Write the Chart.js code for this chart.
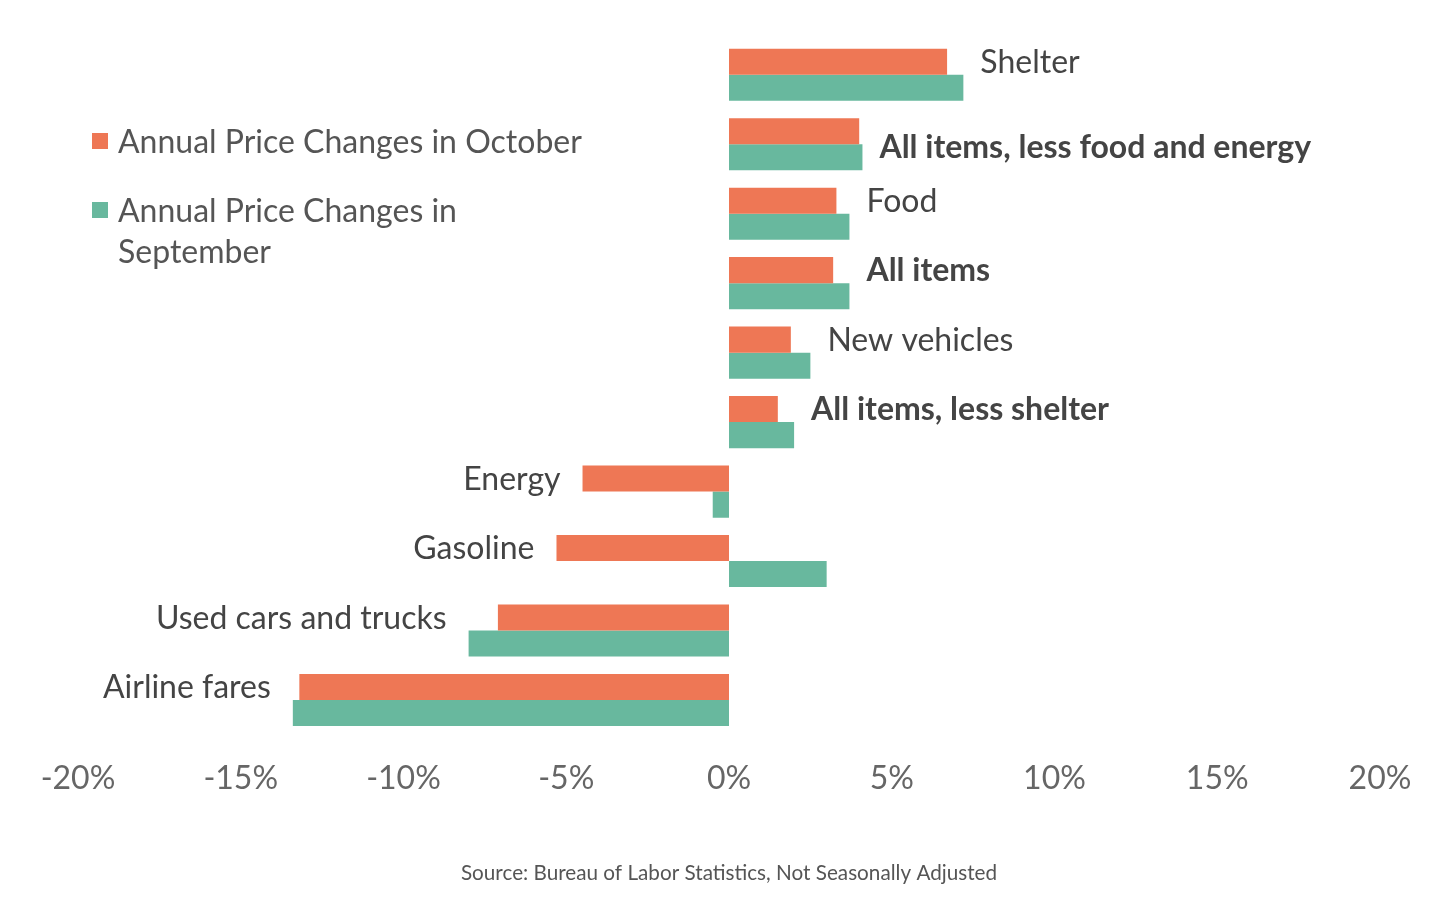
<!DOCTYPE html>
<html>
<head>
<meta charset="utf-8">
<script src="https://cdn.jsdelivr.net/npm/chart.js@4"></script>
<style>
  body { margin: 0; background: #fff; font-family: Lato, sans-serif; }
  #wrap { position: relative; width: 1455px; height: 903px; }
  #legend { position: absolute; left: 92px; top: 120px; color: #555; font-size: 32px; line-height: 41px; }
  #legend .item { position: relative; padding-left: 26px; margin-bottom: 28px; width: 475px; }
  #legend .box { position: absolute; left: 0; top: 13px; width: 16px; height: 16px; }
</style>
</head>
<body>
<div id="wrap">
  <canvas id="cpi" width="1455" height="903"></canvas>
  <div id="legend"></div>
</div>
<script>
const categories = [
    "Shelter",
    "All items, less food and energy",
    "Food",
    "All items",
    "New vehicles",
    "All items, less shelter",
    "Energy",
    "Gasoline",
    "Used cars and trucks",
    "Airline fares"
];
const october = [6.7, 4.0, 3.3, 3.2, 1.9, 1.5, -4.5, -5.3, -7.1, -13.2];
const september = [7.2, 4.1, 3.7, 3.7, 2.5, 2.0, -0.5, 3.0, -8.0, -13.4];
const boldLabels = ["All items, less food and energy", "All items", "All items, less shelter"];
const centeredLabels = ["All items, less food and energy"];

const orange = "#EE7755";
const green = "#68B89E";

// draws the category name beside the end of the bars
const barLabels = {
    id: "barLabels",
    afterDatasetsDraw(chart) {
        const ctx = chart.ctx;
        const m0 = chart.getDatasetMeta(0).data;
        const m1 = chart.getDatasetMeta(1).data;
        ctx.save();
        ctx.fillStyle = "#444";
        ctx.textBaseline = "middle";
        categories.forEach((name, i) => {
            const a = m0[i], b = m1[i];
            const bold = boldLabels.includes(name);
            ctx.font = (bold ? "bold " : "") + "32px Lato";
            let y = a.y + 1;
            if (centeredLabels.includes(name)) y = (a.y + b.y) / 2 + 3;
            if (october[i] >= 0) {
                ctx.textAlign = "left";
                const x = Math.max(a.x, september[i] >= 0 ? b.x : a.x);
                ctx.fillText(name, x + 17, y);
            } else {
                ctx.textAlign = "right";
                const x = Math.min(a.x, september[i] < 0 ? b.x : a.x);
                ctx.fillText(name, x - 22, y);
            }
        });
        ctx.restore();
    }
};

const ctx = document.getElementById("cpi").getContext("2d");

const chart = new Chart(ctx, {
    type: "bar",
    data: {
        labels: categories,
        datasets: [
            {
                label: "Annual Price Changes in October",
                data: october,
                backgroundColor: orange,
            },
            {
                label: "Annual Price Changes in September",
                data: september,
                backgroundColor: green,
            },
        ],
    },
    options: {
        indexAxis: "y",
        responsive: false,
        animation: false,
        categoryPercentage: 0.75,
        barPercentage: 1.0,
        layout: {
            padding: { top: 40, left: 78, right: 75, bottom: 0 },
        },
        plugins: {
            legend: { display: false },
            tooltip: { enabled: false },
            title: {
                display: true,
                position: "bottom",
                text: "Source: Bureau of Labor Statistics, Not Seasonally Adjusted",
                color: "#555",
                font: { family: "Lato", size: 20.7, weight: "normal" },
                padding: { top: 46, bottom: 17 },
            },
        },
        scales: {
            x: {
                min: -20,
                max: 20,
                grid: { display: false },
                border: { display: false },
                ticks: {
                    stepSize: 5,
                    color: "#666",
                    padding: 17,
                    font: { family: "Lato", size: 32 },
                    callback: (v) => v + "%",
                },
            },
            y: {
                display: false,
            },
        },
    },
    plugins: [barLabels],
});

// legend built from the datasets
const legend = document.getElementById("legend");
chart.data.datasets.forEach((ds) => {
    const item = document.createElement("div");
    item.className = "item";
    item.innerHTML = '<span class="box" style="background:' + ds.backgroundColor + '"></span>' + ds.label;
    legend.appendChild(item);
});
</script>
</body>
</html>
